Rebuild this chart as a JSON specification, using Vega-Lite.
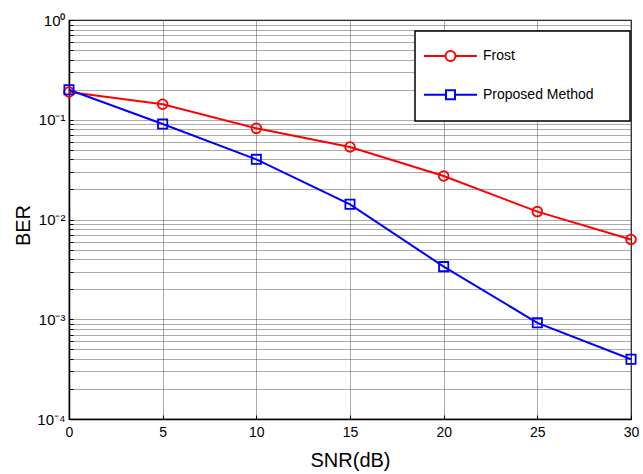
{
  "$schema": "https://vega.github.io/schema/vega-lite/v6.json",
  "width": 562,
  "height": 399,
  "autosize": {"type": "none"},
  "padding": {"left": 69, "top": 20, "right": 12, "bottom": 55},
  "background": "white",
  "config": {
    "view": {"stroke": "black", "strokeWidth": 1.2},
    "font": "Liberation Sans"
  },
  "data": {
    "values": [
      {"snr": 0, "ber": 0.19, "method": "Frost"},
      {"snr": 5, "ber": 0.143, "method": "Frost"},
      {"snr": 10, "ber": 0.082, "method": "Frost"},
      {"snr": 15, "ber": 0.0533, "method": "Frost"},
      {"snr": 20, "ber": 0.0273, "method": "Frost"},
      {"snr": 25, "ber": 0.012, "method": "Frost"},
      {"snr": 30, "ber": 0.0063, "method": "Frost"},
      {"snr": 0, "ber": 0.2, "method": "Proposed Method"},
      {"snr": 5, "ber": 0.0906, "method": "Proposed Method"},
      {"snr": 10, "ber": 0.0401, "method": "Proposed Method"},
      {"snr": 15, "ber": 0.0142, "method": "Proposed Method"},
      {"snr": 20, "ber": 0.00337, "method": "Proposed Method"},
      {"snr": 25, "ber": 0.00092, "method": "Proposed Method"},
      {"snr": 30, "ber": 0.000397, "method": "Proposed Method"}
    ]
  },
  "encoding": {
    "x": {
      "field": "snr",
      "type": "quantitative",
      "scale": {"domain": [0, 30], "nice": false},
      "axis": {
        "values": [0, 5, 10, 15, 20, 25, 30],
        "title": "SNR(dB)",
        "titleFont": "Liberation Sans",
        "titleFontSize": 20,
        "titleFontWeight": "normal",
        "titleColor": "black",
        "titleY": 31,
        "titleBaseline": "top",
        "labelFont": "Liberation Sans",
        "labelFontSize": 14,
        "labelColor": "black",
        "labelPadding": 10,
        "labelFlush": false,
        "ticks": true,
        "tickSize": -4,
        "tickColor": "black",
        "tickWidth": 1,
        "domainColor": "black",
        "domainWidth": 1.5,
        "grid": true,
        "gridColor": "#555",
        "gridDash": [1, 1],
        "gridWidth": 1
      }
    },
    "y": {
      "field": "ber",
      "type": "quantitative",
      "scale": {"type": "log", "domain": [0.0001, 1], "nice": false},
      "axis": {
        "values": [0.0001, 0.0002, 0.0003, 0.0004, 0.0005, 0.0006, 0.0007, 0.0008, 0.0009,
                   0.001, 0.002, 0.003, 0.004, 0.005, 0.006, 0.007, 0.008, 0.009,
                   0.01, 0.02, 0.03, 0.04, 0.05, 0.06, 0.07, 0.08, 0.09,
                   0.1, 0.2, 0.3, 0.4, 0.5, 0.6, 0.7, 0.8, 0.9, 1],
        "labelExpr": "datum.value == 1 ? '10⁰' : datum.value == 0.1 ? '10⁻¹' : datum.value == 0.01 ? '10⁻²' : datum.value == 0.001 ? '10⁻³' : datum.value == 0.0001 ? '10⁻⁴' : ''",
        "title": "BER",
        "titleFont": "Liberation Sans",
        "titleFontSize": 20,
        "titleFontWeight": "normal",
        "titleColor": "black",
        "titleAngle": -90,
        "titleX": -46,
        "titleY": 205,
        "titleAlign": "center",
        "titleBaseline": "middle",
        "labelFont": "Liberation Sans",
        "labelFontSize": 15,
        "labelColor": "black",
        "labelPadding": 8,
        "labelOverlap": false,
        "labelFlush": false,
        "ticks": true,
        "tickSize": -4,
        "tickColor": "black",
        "tickWidth": 1,
        "domainColor": "black",
        "domainWidth": 1.5,
        "grid": true,
        "gridColor": "#555",
        "gridDash": [1, 1],
        "gridWidth": 1
      }
    },
    "color": {
      "field": "method",
      "type": "nominal",
      "scale": {"domain": ["Frost", "Proposed Method"], "range": ["#ff0000", "#0000ff"]},
      "legend": {
        "title": null,
        "orient": "none",
        "legendX": 346,
        "legendY": 11,
        "padding": 17,
        "strokeColor": "black",
        "fillColor": "white",
        "labelFont": "Liberation Sans",
        "labelFontSize": 14,
        "labelColor": "black",
        "labelOffset": 24.5,
        "symbolOffset": 10.5,
        "rowPadding": 19.8,
        "symbolSize": 175.5625,
        "symbolStrokeWidth": 2,
        "encode": {
          "legend": {"update": {"strokeWidth": {"value": 1.5}}},
          "symbols": {
            "update": {
              "shape": {"signal": "datum.value === 'Frost' ? 'M-4,0H-0.755M0.755,0H4M-0.755,0A0.755,0.755 0 1,1 0.755,0A0.755,0.755 0 1,1 -0.755,0M23.9,0' : 'M-4,0H-0.68M0.68,0H4M-0.68,-0.68H0.68V0.68H-0.68ZM23.9,0'"},
              "size": {"value": 175.5625},
              "stroke": {"signal": "datum.value === 'Frost' ? '#ff0000' : '#0000ff'"},
              "fill": {"value": "transparent"},
              "strokeWidth": {"value": 2}
            }
          }
        }
      }
    }
  },
  "layer": [
    {"mark": {"type": "line", "strokeWidth": 2}},
    {
      "transform": [{"filter": "datum.method === 'Frost'"}],
      "mark": {"type": "point", "shape": "circle", "filled": false, "strokeWidth": 1.8, "size": 95, "opacity": 1}
    },
    {
      "transform": [{"filter": "datum.method === 'Proposed Method'"}],
      "mark": {"type": "point", "shape": "square", "filled": false, "strokeWidth": 1.8, "size": 85, "opacity": 1}
    }
  ]
}
